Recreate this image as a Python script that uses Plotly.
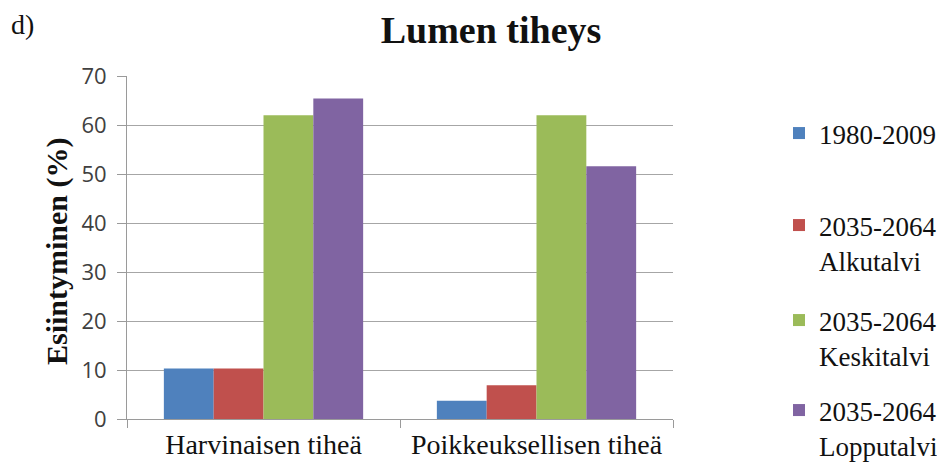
import plotly.graph_objects as go

categories = ["Harvinaisen tiheä", "Poikkeuksellisen tiheä"]
series_names = ["1980-2009", "2035-2064<br>Alkutalvi", "2035-2064<br>Keskitalvi", "2035-2064<br>Lopputalvi"]
v_1980_2009 = [10.3, 3.7]
v_alkutalvi = [10.3, 6.9]
v_keskitalvi = [62.0, 62.0]
v_lopputalvi = [65.4, 51.6]
colors = ["#4F81BD", "#C0504D", "#9BBB59", "#8064A2"]
y_ticks = [0, 10, 20, 30, 40, 50, 60, 70]

values = [v_1980_2009, v_alkutalvi, v_keskitalvi, v_lopputalvi]
legend_ids = ["legend", "legend2", "legend3", "legend4"]
legend_first_line_px = [135, 227, 322, 412]

# page body adds an 8px offset; figure is sized to fit the 945x463 window
OFF = 8
W, H = 945 - OFF, 463 - OFF
L, R, T, B = 127 - OFF, 945 - 673, 76 - OFF, 463 - 419
PW, PH = W - L - R, H - T - B
SERIF = "Liberation Serif"


def px_x(x):
    return (x - OFF - L) / PW


def px_y(y):
    return (T + PH - (y - OFF)) / PH


fig = go.Figure()
for name, vals, col, lg in zip(series_names, values, colors, legend_ids):
    fig.add_trace(go.Bar(x=categories, y=vals, name=name, marker_color=col,
                         marker_line_width=0, legend=lg))

layout_legends = {}
for lg, py in zip(legend_ids, legend_first_line_px):
    layout_legends[lg] = dict(
        xref="container", yref="container", xanchor="left", yanchor="top",
        x=(779 - OFF) / W, y=1 - (py - OFF - 26) / H,
        font=dict(family=SERIF, size=27, color="#111111"),
        bgcolor="rgba(0,0,0,0)", valign="top", itemwidth=30,
    )

fig.update_layout(
    width=W, height=H,
    margin=dict(l=L, r=R, t=T, b=B, autoexpand=False),
    paper_bgcolor="white", plot_bgcolor="white",
    barmode="group", bargap=0.27, bargroupgap=0,
    showlegend=True,
    title=dict(text="<b>Lumen tiheys</b>", xref="container", yref="container",
               x=(491 - OFF) / W, xanchor="center", y=1 - (30 - OFF) / H, yanchor="middle",
               font=dict(family=SERIF, size=38, color="#111111")),
    xaxis=dict(
        automargin=False,
        tickfont=dict(family=SERIF, size=28, color="#111111"),
        showline=True, linecolor="#9a9a9a", linewidth=1,
        ticks="outside", tickson="boundaries", ticklen=8, tickcolor="#9a9a9a",
        showgrid=False,
    ),
    yaxis=dict(
        automargin=False,
        range=[0, 70], tickvals=y_ticks,
        tickfont=dict(family="Open Sans", size=22, color="#404040"),
        ticklabelstandoff=6,
        showline=True, linecolor="#9a9a9a", linewidth=1,
        ticks="outside", ticklen=9, tickcolor="#9a9a9a",
        showgrid=True, gridcolor="#a6a6a6", gridwidth=1,
        zeroline=False,
    ),
    annotations=[
        dict(text="d)", xref="paper", yref="paper",
             x=px_x(9), y=px_y(24), xanchor="left", yanchor="middle",
             showarrow=False, font=dict(family=SERIF, size=28, color="#111111")),
        dict(text="<b>Esiintyminen (%)</b>", xref="paper", yref="paper",
             x=px_x(57), y=px_y(251), xanchor="center", yanchor="middle",
             textangle=-90, showarrow=False,
             font=dict(family=SERIF, size=30, color="#111111")),
    ],
    **layout_legends,
)

fig.write_html("out.html")
